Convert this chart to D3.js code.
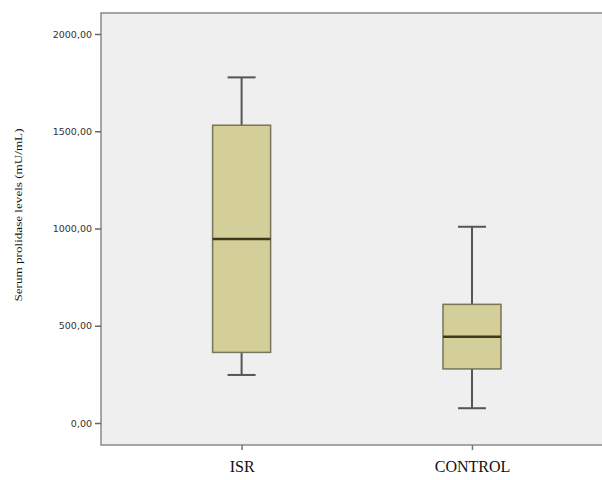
<!DOCTYPE html>
<html>
<head>
<meta charset="utf-8">
<script src="https://cdn.jsdelivr.net/npm/d3@7"></script>
<style>
  body { margin: 0; background: #fff; }
  svg { display: block; }
</style>
</head>
<body>
<div id="chart"></div>
<script>
// données
const groups = ["ISR", "CONTROL"];
const whiskerLow = [247, 76];
const q1 = [363, 278];
const median = [946, 444];
const q3 = [1531, 610];
const whiskerHigh = [1777, 1009];
const yTicks = [0, 500, 1000, 1500, 2000];

const width = 602;
const height = 480;
const margin = { top: 13, right: -10, bottom: 35, left: 101 };

const svg = d3.select("#chart")
    .append("svg")
    .attr("width", width)
    .attr("height", height);

const plotW = width - margin.left - margin.right;
const plotH = height - margin.top - margin.bottom;

const g = svg.append("g")
    .attr("transform", `translate(${margin.left},${margin.top})`);

// fond de la zone de tracé
g.append("rect")
    .attr("width", plotW)
    .attr("height", plotH)
    .attr("fill", "#efefef")
    .attr("stroke", "#8a8a8a")
    .attr("stroke-width", 1.5);

const xScale = d3.scalePoint().domain(groups).range([0, 505]).padding(0.596).align(0.512);
const yScale = d3.scaleLinear().domain([0, 2000]).range([410, 21]);

// axes
const fmt = d => d3.format(".2f")(d).replace(".", ",");
const yAxis = d3.axisLeft(yScale).tickValues(yTicks).tickFormat(fmt).tickSize(6).tickPadding(3);
const yg = g.append("g").call(yAxis);
yg.select(".domain").remove();
yg.selectAll("line").attr("stroke", "#666").attr("stroke-width", 1.5);
yg.selectAll("text")
    .style("font-family", "'DejaVu Sans', sans-serif")
    .style("font-size", "9.5px")
    .attr("fill", "#333");

const xAxis = d3.axisBottom(xScale).tickSize(5).tickPadding(11);
const xg = g.append("g").attr("transform", `translate(0,${plotH})`).call(xAxis);
xg.select(".domain").remove();
xg.selectAll("line").attr("stroke", "#777").attr("stroke-width", 1.5);
xg.selectAll("text")
    .style("font-family", "'Liberation Serif', serif")
    .style("font-size", "16px")
    .attr("fill", "#111");

// titre de l'axe y
svg.append("text")
    .attr("transform", "rotate(-90)")
    .attr("x", -215)
    .attr("y", 22)
    .attr("textLength", 173)
    .attr("lengthAdjust", "spacingAndGlyphs")
    .style("text-anchor", "middle")
    .style("font-family", "'Liberation Serif', serif")
    .style("font-size", "11px")
    .attr("fill", "#111")
    .text("Serum prolidase levels (mU/mL)");

// boîtes à moustaches
const boxW = 58;
const capW = 28;
groups.forEach((grp, i) => {
    const cx = xScale(grp);
    const box = g.append("g");
    box.append("line")
        .attr("x1", cx).attr("x2", cx)
        .attr("y1", yScale(whiskerHigh[i])).attr("y2", yScale(q3[i]))
        .attr("stroke", "#555").attr("stroke-width", 2);
    box.append("line")
        .attr("x1", cx).attr("x2", cx)
        .attr("y1", yScale(q1[i])).attr("y2", yScale(whiskerLow[i]))
        .attr("stroke", "#555").attr("stroke-width", 2);
    [whiskerHigh[i], whiskerLow[i]].forEach(v => {
        box.append("line")
            .attr("x1", cx - capW / 2).attr("x2", cx + capW / 2)
            .attr("y1", yScale(v)).attr("y2", yScale(v))
            .attr("stroke", "#555").attr("stroke-width", 2);
    });
    box.append("rect")
        .attr("x", cx - boxW / 2)
        .attr("y", yScale(q3[i]))
        .attr("width", boxW)
        .attr("height", yScale(q1[i]) - yScale(q3[i]))
        .attr("fill", "#d4cf98")
        .attr("stroke", "#77745a")
        .attr("stroke-width", 1.5);
    box.append("line")
        .attr("x1", cx - boxW / 2).attr("x2", cx + boxW / 2)
        .attr("y1", yScale(median[i])).attr("y2", yScale(median[i]))
        .attr("stroke", "#3c3a1e").attr("stroke-width", 2.5);
});
</script>
</body>
</html>
